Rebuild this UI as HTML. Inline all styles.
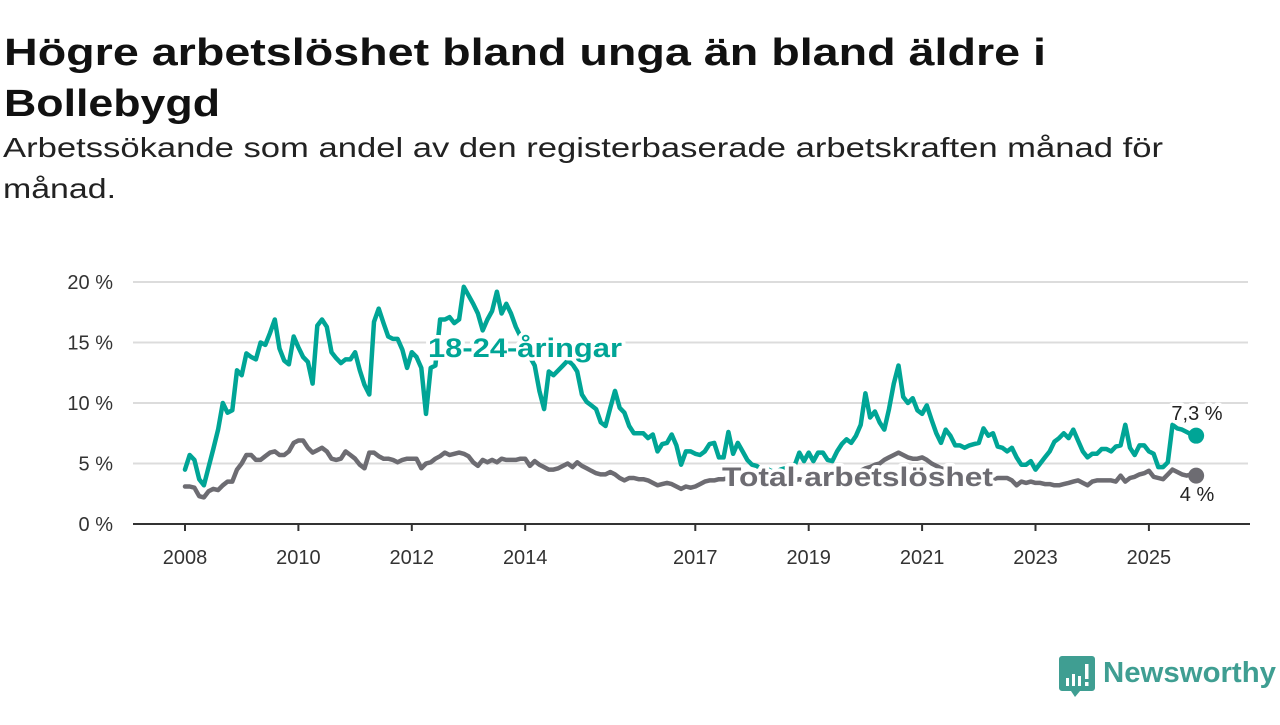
<!DOCTYPE html>
<html><head><meta charset="utf-8">
<style>
html,body{margin:0;padding:0;background:#fff;}
body{width:1280px;height:720px;overflow:hidden;font-family:"Liberation Sans",sans-serif;}
svg text{font-family:"Liberation Sans",sans-serif;}
</style></head>
<body>
<svg id="chart" width="1280" height="720" viewBox="0 0 1280 720">
  <text x="4" y="65" font-size="38" font-weight="bold" fill="#111" textLength="1042" lengthAdjust="spacingAndGlyphs">Högre arbetslöshet bland unga än bland äldre i</text>
  <text x="4" y="116" font-size="38" font-weight="bold" fill="#111" textLength="216" lengthAdjust="spacingAndGlyphs">Bollebygd</text>
  <text x="3" y="157" font-size="28" fill="#222" textLength="1160" lengthAdjust="spacingAndGlyphs">Arbetssökande som andel av den registerbaserade arbetskraften månad för</text>
  <text x="3" y="198" font-size="28" fill="#222" textLength="113" lengthAdjust="spacingAndGlyphs">månad.</text>
  <g id="grid"></g>
  <g id="series"></g>
  <g id="labels"></g>
  <g>
    <path d="M1062 656 h30 a3 3 0 0 1 3 3 v29 a3 3 0 0 1 -3 3 h-12 l-5 6 l-4 -6 h-9 a3 3 0 0 1 -3 -3 v-29 a3 3 0 0 1 3 -3z" fill="#3f9e92"/>
    <rect x="1066" y="678" width="3" height="8" fill="#fff"/>
    <rect x="1072" y="674" width="3" height="12" fill="#fff"/>
    <rect x="1078" y="676" width="3" height="10" fill="#fff"/>
    <rect x="1085" y="664" width="3.5" height="15" fill="#fff"/>
    <rect x="1085" y="682" width="3.5" height="4" fill="#fff"/>
    <text x="1103" y="682" font-size="29" font-weight="bold" fill="#3f9e92" textLength="173" lengthAdjust="spacingAndGlyphs">Newsworthy</text>
  </g>
</svg>
<script>
const yTicks = [0, 5, 10, 15, 20];
const yTickLabels = ["0 %", "5 %", "10 %", "15 %", "20 %"];
const xTickYears = [2008, 2010, 2012, 2014, 2017, 2019, 2021, 2023, 2025];
const startYear = 2008;
const youth = [
4.5,5.7,5.3,3.7,3.2,4.7,6.2,7.8,10,9.2,
9.4,12.7,12.3,14.1,13.8,13.6,15.0,14.8,15.8,16.9,
14.5,13.5,13.2,15.5,14.6,13.8,13.4,11.6,16.4,16.9,
16.3,14.2,13.7,13.3,13.6,13.6,14.2,12.7,11.5,10.7,
16.7,17.8,16.6,15.5,15.3,15.3,14.4,12.9,14.2,13.8,
12.9,9.1,12.9,13.1,16.9,16.9,17.1,16.6,16.9,19.6,
18.9,18.2,17.4,16.0,16.9,17.6,19.2,17.4,18.2,17.4,16.3,
15.5,14.5,
13.8,13.1,11.0,9.5,12.6,12.3,12.7,13.1,13.5,13.2,12.6,10.7,
10.1,9.8,9.5,8.4,8.1,9.6,11.0,9.6,9.2,8.1,7.5,7.5,7.5,7.1,7.4,6.0,6.6,6.7,7.4,6.5,4.9,6.0,6.0,5.8,5.7,6.0,6.6,6.7,5.5,5.5,7.6,5.8,6.7,6.0,5.3,4.9,
4.8,4.5,4.6,4.4,4.3,4.5,4.6,4.4,4.8,
5.9,5.2,5.9,5.2,5.9,5.9,5.3,5.2,6.0,6.6,7.0,6.7,7.3,8.2,
10.8,
8.8,9.3,8.4,7.8,9.5,11.6,13.1,10.5,10.0,10.4,9.4,9.1,9.8,8.6,7.5,6.7,7.8,7.3,6.5,6.5,6.3,6.5,6.6,6.7,7.9,7.3,7.5,6.4,6.3,6.0,6.3,5.5,4.9,4.9,5.2,4.5,5.0,5.5,6.0,6.8,7.1,7.5,7.1,7.8,6.9,6.0,5.5,5.8,5.8,6.2,6.2,6.0,6.4,6.5,8.2,6.3,5.7,6.5,6.5,6.0,5.8,4.7,4.7,5.1,8.2,
7.9,7.8,7.6,7.4,7.3
];
const total = [
3.1,3.1,3.0,2.3,2.2,2.7,2.9,2.8,3.2,3.5,
3.5,4.5,5.0,5.7,5.7,5.3,5.3,5.6,5.9,6.0,
5.7,5.7,6.0,6.7,6.9,6.9,6.3,5.9,6.1,6.3,
6.0,5.4,5.3,5.4,6.0,5.7,5.4,4.9,4.6,5.9,
5.9,5.6,5.4,5.4,5.3,5.1,5.3,5.4,5.4,5.4,
4.6,5.0,5.1,5.4,5.6,5.9,5.7,5.8,5.9,5.8,
5.6,5.1,4.8,5.3,5.1,5.3,5.1,5.4,5.3,5.3,5.3,5.4,5.4,4.8,
5.2,4.9,4.7,4.5,4.5,4.6,4.8,5.0,4.7,5.1,4.8,4.6,4.4,4.2,4.1,4.1,4.3,4.1,3.8,3.6,3.8,3.8,3.7,3.7,3.6,3.4,3.2,3.3,3.4,3.3,3.1,2.9,3.1,3.0,3.1,3.3,3.5,3.6,3.6,3.7,
3.7,3.8,3.6,3.7,3.8,3.6,3.5,3.6,3.7,3.5,3.4,3.6,3.7,3.6,3.5,3.6,3.7,3.6,3.6,3.7,3.8,3.7,3.8,3.9,3.8,3.9,4.0,
4.1,4.2,4.4,4.6,4.7,4.9,5.0,5.3,5.5,5.7,
5.9,
5.7,5.5,5.4,5.4,5.5,5.3,5.0,4.8,4.6,4.5,4.4,4.2,4.1,4.0,3.9,3.9,3.8,3.8,3.7,3.7,
3.8,3.8,3.8,
3.6,3.2,3.5,3.4,3.5,3.4,3.4,3.3,3.3,3.2,3.2,3.3,3.4,3.5,3.6,3.4,3.2,3.5,3.6,3.6,3.6,3.6,3.5,4.0,3.5,3.8,3.9,4.1,4.2,4.4,3.9,3.8,3.7,4.1,4.5,4.3,4.1,4.0,4.1,4.0
];
const youthLabel = "7,3 %";
const totalLabel = "4 %";

const NS = "http://www.w3.org/2000/svg";
const X0 = 185, PXY = 56.7, Y0 = 524, PXV = 12.1;
function xScale(monthIndex){ return X0 + monthIndex * PXY / 12; }
function xYear(y){ return X0 + (y - startYear) * PXY; }
function yScale(v){ return Y0 - v * PXV; }
function mk(tag, attrs, parent){ const e=document.createElementNS(NS,tag); for(const k in attrs) e.setAttribute(k, attrs[k]); parent.appendChild(e); return e; }

const grid = document.getElementById('grid');
yTicks.forEach((t,i)=>{
  if(t>0){
    const gl = mk('line',{x1:133,x2:1248,y1:yScale(t),y2:yScale(t),stroke:'#dcdcdc','stroke-width':2},grid);
    
    
  }
  const tl = mk('text',{x:113,y:yScale(t)+7,'font-size':20,fill:'#333','text-anchor':'end'},grid);
  tl.textContent = yTickLabels[i];
  
  
});
const ax = mk('line',{x1:133,x2:1250,y1:Y0,y2:Y0,stroke:'#333','stroke-width':2},grid);


xTickYears.forEach(y=>{
  const tk = mk('line',{x1:xYear(y),x2:xYear(y),y1:Y0,y2:Y0+7,stroke:'#333','stroke-width':2},grid);
  
  
  const lb = mk('text',{x:xYear(y),y:564,'font-size':20,fill:'#333','text-anchor':'middle'},grid);
  lb.textContent = y;
  
  
});

const ser = document.getElementById('series');
function line(arr, color, name){
  const d = arr.map((v,i)=>(i?'L':'M')+xScale(i).toFixed(1)+' '+yScale(v).toFixed(1)).join(' ');
  const p = mk('path',{d:d,fill:'none',stroke:color,'stroke-width':4.5,'stroke-linejoin':'round','stroke-linecap':'round'},ser);
  
  
  const last = arr.length-1;
  const c = mk('circle',{cx:xScale(last),cy:yScale(arr[last]),r:8,fill:color},ser);
  
  
  return last;
}
const TEAL = '#00a596', GRAY = '#6d6c72';
line(total, GRAY, 'total-line');
line(youth, TEAL, 'youth-line');

const lab = document.getElementById('labels');
function halo(txt, attrs, name){
  const t = mk('text', Object.assign({stroke:'#fff','stroke-width':7,'paint-order':'stroke','stroke-linejoin':'round'},attrs), lab);
  t.textContent = txt;
  
  
}
halo('18-24-åringar',{x:428,y:357,'font-size':27,'font-weight':'bold',fill:TEAL,textLength:194,lengthAdjust:'spacingAndGlyphs'},'youth-series-label');
halo('Total arbetslöshet',{x:722,y:486,'font-size':27,'font-weight':'bold',fill:GRAY,textLength:271,lengthAdjust:'spacingAndGlyphs'},'total-series-label');
halo(youthLabel,{x:1197,y:420,'font-size':20,fill:'#222','text-anchor':'middle'},'youth-end-value');
halo(totalLabel,{x:1197,y:501,'font-size':20,fill:'#222','text-anchor':'middle'},'total-end-value');
</script>
</body></html>
